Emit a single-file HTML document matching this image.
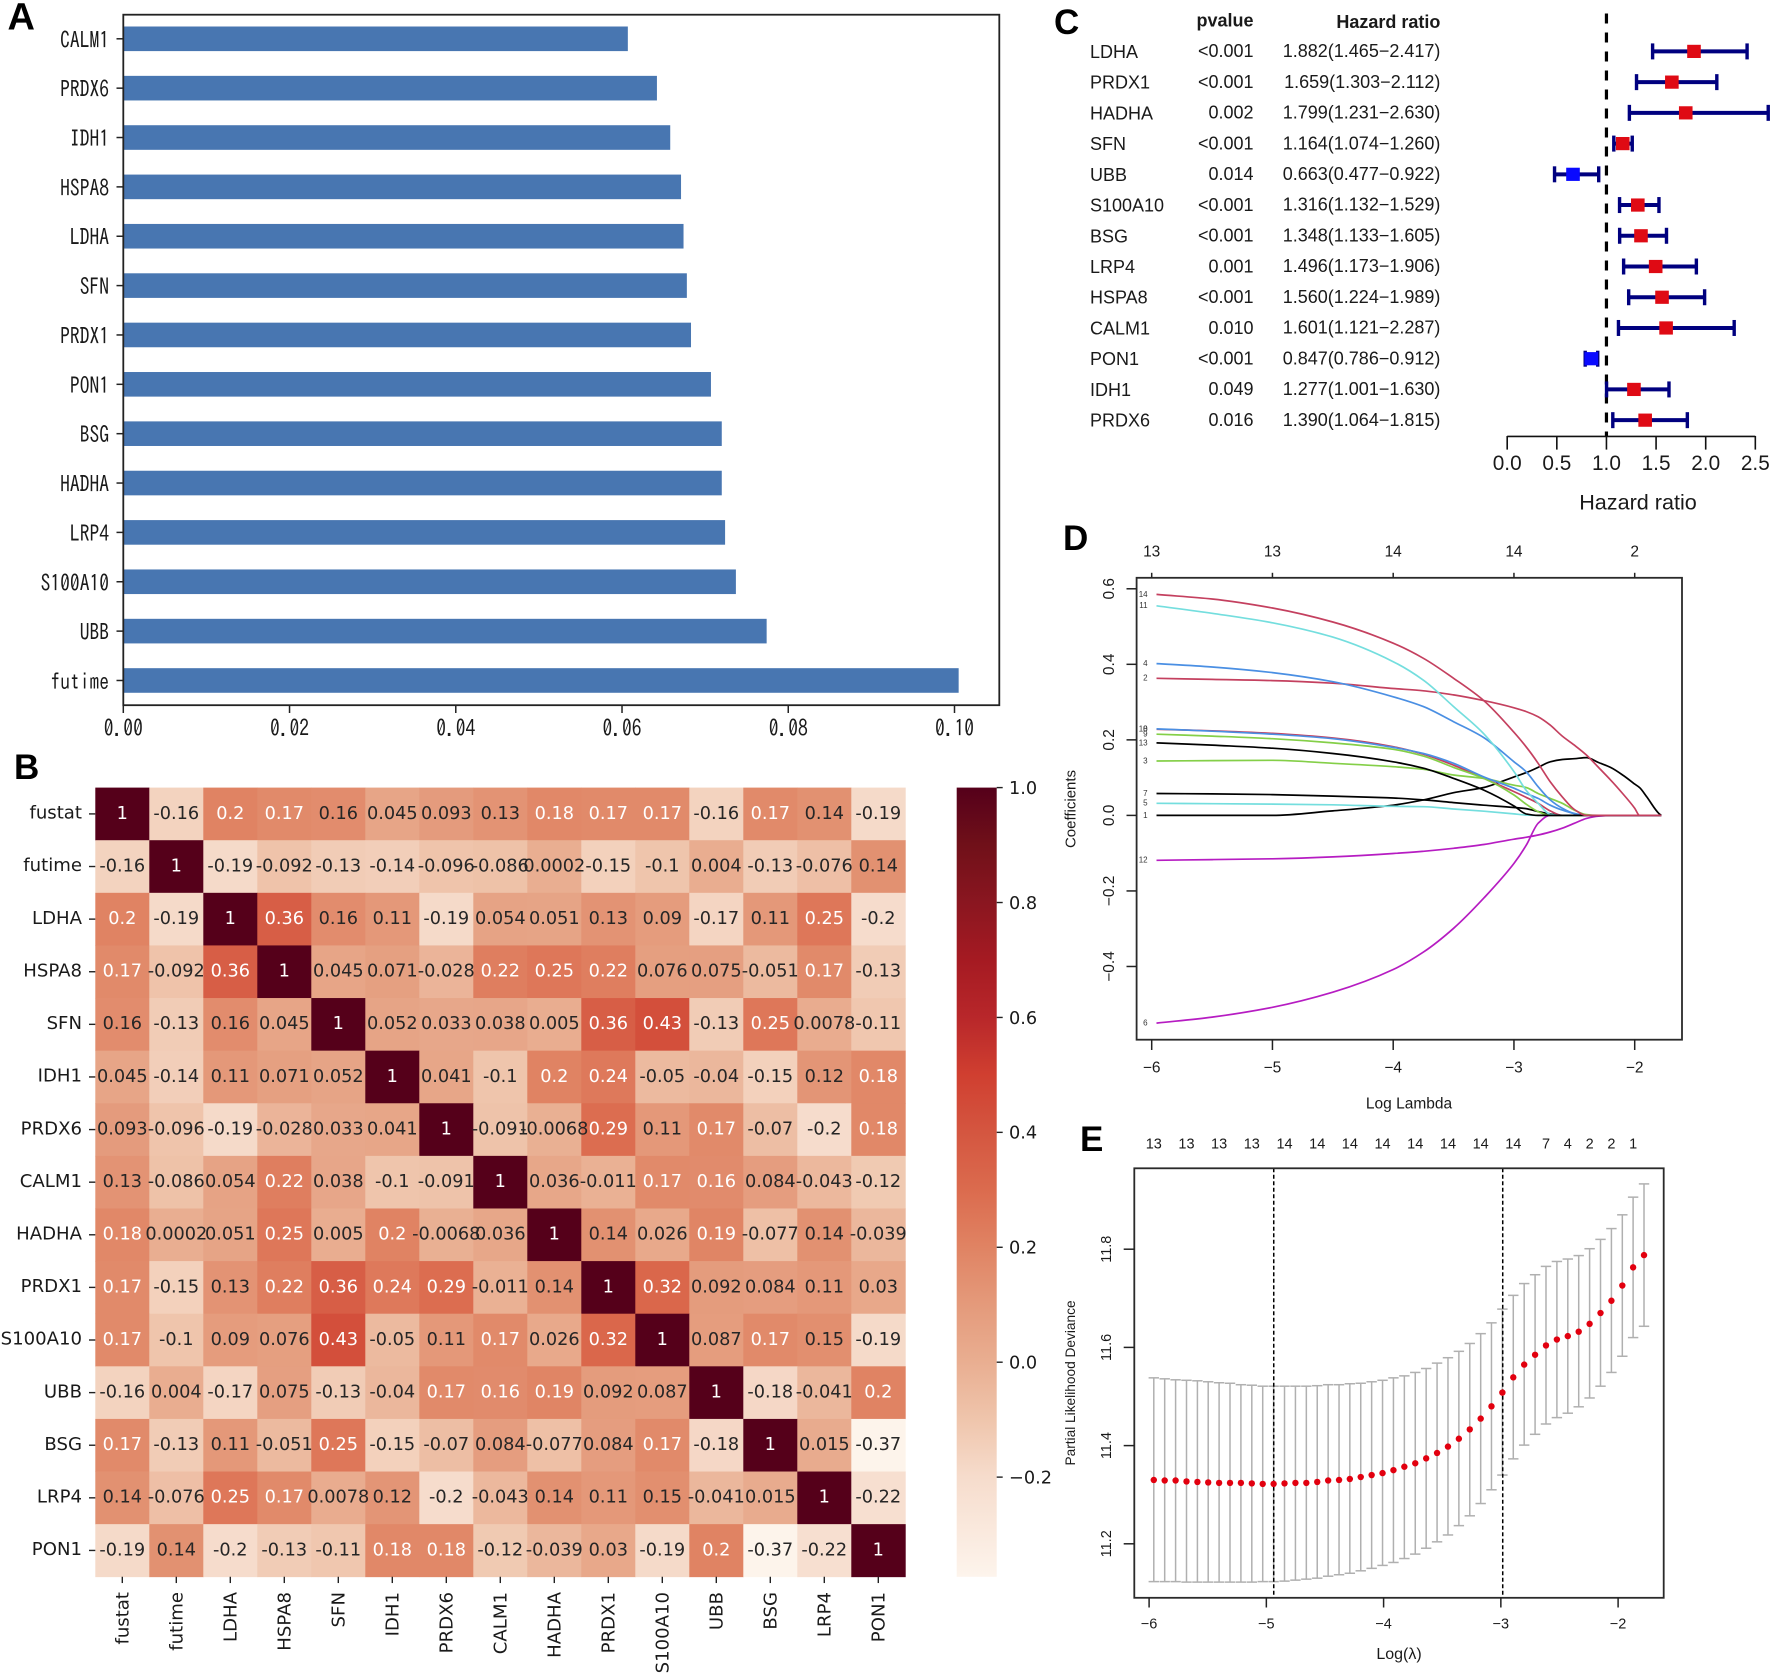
<!DOCTYPE html>
<html lang="en"><head><meta charset="utf-8"><title>Prognostic gene figure</title>
<style>
html,body{margin:0;padding:0;background:#fff;width:1772px;height:1674px;overflow:hidden}
svg{display:block}
text{font-family:"Liberation Sans",sans-serif;fill:#1a1a1a}
.dj{font-family:"DejaVu Sans",sans-serif}
.mono{font-family:"IPAGothic","Liberation Mono",monospace}
.letter{font-family:"Liberation Sans",sans-serif;font-weight:bold;font-size:35px;fill:#000}
</style></head>
<body>
<svg id="fig" xmlns="http://www.w3.org/2000/svg" width="1772" height="1674" viewBox="0 0 1772 1674">
<defs><linearGradient id="cbGrad" x1="0" y1="0" x2="0" y2="1"></linearGradient></defs>
<text class="letter" x="7.5" y="29.5" style="font-size:38px">A</text>
<text class="letter" x="14" y="779">B</text>
<text class="letter" x="1054" y="34">C</text>
<text class="letter" x="1063" y="550">D</text>
<text class="letter" x="1080" y="1151">E</text>
</svg>
<script>
// ---------- Panel A data ----------
const importanceGenes = ["CALM1","PRDX6","IDH1","HSPA8","LDHA","SFN","PRDX1","PON1","BSG","HADHA","LRP4","S100A10","UBB","futime"];
const importanceValues = [0.0607,0.0642,0.0658,0.0671,0.0674,0.0678,0.0683,0.0707,0.0720,0.0720,0.0724,0.0737,0.0774,0.1005];
const importanceTicks = [0,0.02,0.04,0.06,0.08,0.10];

// ---------- Panel B data ----------
const heatLabels = ["fustat","futime","LDHA","HSPA8","SFN","IDH1","PRDX6","CALM1","HADHA","PRDX1","S100A10","UBB","BSG","LRP4","PON1"];
const heatFustat = [1,-0.16,0.2,0.17,0.16,0.045,0.093,0.13,0.18,0.17,0.17,-0.16,0.17,0.14,-0.19];
const heatFutime = [-0.16,1,-0.19,-0.092,-0.13,-0.14,-0.096,-0.086,0.0002,-0.15,-0.1,0.004,-0.13,-0.076,0.14];
const heatLDHA = [0.2,-0.19,1,0.36,0.16,0.11,-0.19,0.054,0.051,0.13,0.09,-0.17,0.11,0.25,-0.2];
const heatHSPA8 = [0.17,-0.092,0.36,1,0.045,0.071,-0.028,0.22,0.25,0.22,0.076,0.075,-0.051,0.17,-0.13];
const heatSFN = [0.16,-0.13,0.16,0.045,1,0.052,0.033,0.038,0.005,0.36,0.43,-0.13,0.25,0.0078,-0.11];
const heatIDH1 = [0.045,-0.14,0.11,0.071,0.052,1,0.041,-0.1,0.2,0.24,-0.05,-0.04,-0.15,0.12,0.18];
const heatPRDX6 = [0.093,-0.096,-0.19,-0.028,0.033,0.041,1,-0.091,-0.0068,0.29,0.11,0.17,-0.07,-0.2,0.18];
const heatCALM1 = [0.13,-0.086,0.054,0.22,0.038,-0.1,-0.091,1,0.036,-0.011,0.17,0.164,0.084,-0.043,-0.12];
const heatHADHA = [0.18,0.0002,0.051,0.25,0.005,0.2,-0.0068,0.036,1,0.14,0.026,0.19,-0.077,0.14,-0.039];
const heatPRDX1 = [0.17,-0.15,0.13,0.22,0.36,0.24,0.29,-0.011,0.14,1,0.32,0.092,0.084,0.11,0.03];
const heatS100A10 = [0.17,-0.1,0.09,0.076,0.43,-0.05,0.11,0.17,0.026,0.32,1,0.087,0.17,0.15,-0.19];
const heatUBB = [-0.16,0.004,-0.17,0.075,-0.13,-0.04,0.17,0.164,0.19,0.092,0.087,1,-0.18,-0.041,0.2];
const heatBSG = [0.17,-0.13,0.11,-0.051,0.25,-0.15,-0.07,0.084,-0.077,0.084,0.17,-0.18,1,0.015,-0.37];
const heatLRP4 = [0.14,-0.076,0.25,0.17,0.0078,0.12,-0.2,-0.043,0.14,0.11,0.15,-0.041,0.015,1,-0.22];
const heatPON1 = [-0.19,0.14,-0.2,-0.13,-0.11,0.18,0.18,-0.12,-0.039,0.03,-0.19,0.2,-0.37,-0.22,1];
const heatRows = [heatFustat,heatFutime,heatLDHA,heatHSPA8,heatSFN,heatIDH1,heatPRDX6,heatCALM1,heatHADHA,heatPRDX1,heatS100A10,heatUBB,heatBSG,heatLRP4,heatPON1];
const colorbarTicks = [1,0.8,0.6,0.4,0.2,0,-0.2];
const colormapValues = [-0.373,-0.2,-0.1,0,0.1,0.2,0.3,0.4,0.5,0.6,0.7,0.8,0.9,1];
const colormapColors = ["#fdf4ec","#f6dccc","#efc5ac","#e9ae91","#e49a7b","#e08363","#db6b4e","#d45640","#d03f30","#b8272a","#a51a22","#8a1620","#701019","#55001a"];

// ---------- Panel C data ----------
const forestGenes = ["LDHA","PRDX1","HADHA","SFN","UBB","S100A10","BSG","LRP4","HSPA8","CALM1","PON1","IDH1","PRDX6"];
const forestP = ["<0.001","<0.001","0.002","<0.001","0.014","<0.001","<0.001","0.001","<0.001","0.010","<0.001","0.049","0.016"];
const forestHR = [1.882,1.659,1.799,1.164,0.663,1.316,1.348,1.496,1.560,1.601,0.847,1.277,1.390];
const forestLow = [1.465,1.303,1.231,1.074,0.477,1.132,1.133,1.173,1.224,1.121,0.786,1.001,1.064];
const forestHigh = [2.417,2.112,2.630,1.260,0.922,1.529,1.605,1.906,1.989,2.287,0.912,1.630,1.815];
const forestTicks = [0,0.5,1,1.5,2,2.5];

// ---------- Panel D data ----------
const lassoLambda = [-5.96,-5.5,-5,-4.5,-4,-3.75,-3.5,-3.25,-3,-2.9,-2.8,-2.7,-2.6,-2.5,-2.4,-2.3,-2.2,-2.1,-2,-1.96,-1.9,-1.8,-1.78];
const coef1 = [0,0,0,0.012,0.027,0.041,0.060,0.074,0.102,0.113,0.127,0.142,0.148,0.150,0.153,0.140,0.127,0.107,0.083,0.074,0.049,0.005,0];
const coef2 = [0.363,0.360,0.357,0.350,0.336,0.330,0.319,0.304,0.285,0.275,0.261,0.239,0.210,0.186,0.160,0.127,0.094,0.058,0.019,0,0,0,0];
const coef3 = [0.144,0.145,0.146,0.138,0.129,0.122,0.107,0.098,0.080,0.074,0.058,0.045,0.032,0.014,0.002,0,0,0,0,0,0,0,0];
const coef4 = [0.402,0.393,0.378,0.354,0.314,0.288,0.248,0.206,0.142,0.116,0.076,0.041,0.019,0.005,0,0,0,0,0,0,0,0,0];
const coef5 = [0.032,0.031,0.030,0.028,0.024,0.023,0.017,0.011,0.004,0.001,0,0,0,0,0,0,0,0,0,0,0,0,0];
const coef6 = [-0.550,-0.534,-0.508,-0.468,-0.408,-0.362,-0.299,-0.219,-0.127,-0.080,-0.021,0,0,0,0,0,0,0,0,0,0,0,0];
const coef7 = [0.058,0.057,0.055,0.051,0.046,0.041,0.034,0.027,0.021,0.018,0.010,0.004,0,0,0,0,0,0,0,0,0,0,0];
const coef8 = [0.228,0.224,0.217,0.205,0.182,0.162,0.133,0.098,0.063,0.048,0.032,0.012,0,0,0,0,0,0,0,0,0,0,0];
const coef9 = [0.215,0.210,0.203,0.192,0.175,0.157,0.127,0.098,0.054,0.030,0.010,0,0,0,0,0,0,0,0,0,0,0,0];
const coef10 = [0.229,0.223,0.215,0.203,0.180,0.164,0.138,0.102,0.072,0.058,0.045,0.027,0.014,0.005,0,0,0,0,0,0,0,0,0];
const coef11 = [0.555,0.535,0.510,0.472,0.407,0.358,0.288,0.216,0.116,0.067,0.032,0.003,0,0,0,0,0,0,0,0,0,0,0];
const coef12 = [-0.119,-0.117,-0.115,-0.110,-0.101,-0.095,-0.087,-0.077,-0.063,-0.058,-0.052,-0.044,-0.034,-0.021,-0.008,-0.002,0,0,0,0,0,0,0];
const coef13 = [0.192,0.186,0.178,0.164,0.142,0.125,0.098,0.067,0.025,0.004,0,0,0,0,0,0,0,0,0,0,0,0,0];
const coef14 = [0.585,0.573,0.549,0.512,0.456,0.416,0.363,0.304,0.220,0.182,0.138,0.089,0.049,0.016,0,0,0,0,0,0,0,0,0];
const coefSeries = [coef1,coef2,coef3,coef4,coef5,coef6,coef7,coef8,coef9,coef10,coef11,coef12,coef13,coef14];
const coefColors = ["#000000","#c4405f","#84cf48","#4a8fe3","#74dede","#b61cc2","#000000","#c4405f","#84cf48","#4a8fe3","#74dede","#b61cc2","#000000","#c4405f"];
const lassoXTicks = [-6,-5,-4,-3,-2];
const lassoTopLabels = ["13","13","14","14","2"];
const lassoYTicks = [0.6,0.4,0.2,0,-0.2,-0.4];

// ---------- Panel E data ----------
const cvLambda = [-5.96,-5.867,-5.774,-5.681,-5.588,-5.496,-5.403,-5.31,-5.217,-5.124,-5.031,-4.938,-4.845,-4.752,-4.659,-4.566,-4.473,-4.38,-4.288,-4.195,-4.102,-4.009,-3.916,-3.823,-3.73,-3.637,-3.544,-3.451,-3.358,-3.265,-3.172,-3.08,-2.987,-2.894,-2.801,-2.708,-2.615,-2.522,-2.429,-2.336,-2.243,-2.15,-2.057,-1.964,-1.872,-1.779];
const cvMean = [11.330,11.329,11.329,11.327,11.326,11.325,11.324,11.324,11.324,11.323,11.322,11.322,11.323,11.324,11.324,11.326,11.329,11.330,11.332,11.336,11.340,11.344,11.350,11.357,11.364,11.374,11.385,11.398,11.414,11.433,11.455,11.480,11.508,11.539,11.565,11.585,11.604,11.616,11.623,11.632,11.648,11.670,11.695,11.726,11.763,11.788];
const cvUpper = [11.538,11.536,11.534,11.533,11.532,11.530,11.528,11.527,11.524,11.523,11.521,11.521,11.521,11.521,11.521,11.522,11.524,11.524,11.526,11.527,11.530,11.533,11.538,11.542,11.549,11.557,11.568,11.579,11.592,11.608,11.628,11.650,11.678,11.706,11.730,11.748,11.765,11.775,11.780,11.787,11.801,11.820,11.842,11.870,11.906,11.933];
const cvLower = [11.123,11.123,11.123,11.122,11.122,11.122,11.122,11.122,11.122,11.122,11.123,11.123,11.124,11.126,11.128,11.130,11.134,11.137,11.140,11.145,11.150,11.156,11.162,11.170,11.179,11.191,11.204,11.218,11.237,11.257,11.282,11.310,11.340,11.373,11.401,11.423,11.444,11.457,11.466,11.479,11.497,11.521,11.549,11.582,11.620,11.643];
const cvLambdaMin = -4.937;
const cvLambda1se = -2.984;
const cvTopLambda = [-5.96,-5.681,-5.403,-5.124,-4.845,-4.566,-4.288,-4.009,-3.73,-3.451,-3.172,-2.894,-2.615,-2.429,-2.243,-2.057,-1.872];
const cvTopLabels = ["13","13","13","13","14","14","14","14","14","14","14","14","7","4","2","2","1"];
const cvXTicks = [-6,-5,-4,-3,-2];
const cvYTicks = [11.2,11.4,11.6,11.8];

// ---------- helpers ----------
const NS = "http://www.w3.org/2000/svg";
const fig = document.getElementById("fig");
function mk(tag, attrs, parent){
  const e = document.createElementNS(NS, tag);
  for(const k in attrs) e.setAttribute(k, attrs[k]);
  (parent || fig).appendChild(e);
  return e;
}
function group(name){
  const g = mk("g", {});
  
  
  return g;
}
function line(x1,y1,x2,y2,stroke,w,parent,extra){
  return mk("line", Object.assign({x1:x1,y1:y1,x2:x2,y2:y2,stroke:stroke,"stroke-width":w}, extra||{}), parent);
}
function label(str,x,y,size,anchor,parent,extra){
  const t = mk("text", Object.assign({x:x,y:y+size*0.36,"font-size":size,"text-anchor":anchor}, extra||{}), parent);
  t.textContent = str;
  return t;
}
function rotLabel(str,x,y,size,anchor,parent,extra){
  const t = mk("text", Object.assign({transform:"translate("+(x+size*0.36)+","+y+") rotate(-90)","font-size":size,"text-anchor":anchor}, extra||{}), parent);
  t.textContent = str;
  return t;
}
function minus(s){ return String(s).replace("-", "\u2212"); }
function hexToRgb(h){ return [parseInt(h.substr(1,2),16),parseInt(h.substr(3,2),16),parseInt(h.substr(5,2),16)]; }
function colorFor(v){
  const xs = colormapValues, cs = colormapColors;
  if(v <= xs[0]) return cs[0];
  if(v >= xs[xs.length-1]) return cs[cs.length-1];
  let i = 0;
  while(v > xs[i+1]) i++;
  const f = (v-xs[i])/(xs[i+1]-xs[i]), a = hexToRgb(cs[i]), b = hexToRgb(cs[i+1]);
  return "rgb("+a.map((c,k)=>Math.round(c+(b[k]-c)*f)).join(",")+")";
}
// monotone cubic path through the given screen points
function smoothPath(xs, ys){
  const n = xs.length, d = [], m = [];
  for(let i=0;i<n-1;i++) d.push((ys[i+1]-ys[i])/(xs[i+1]-xs[i]));
  m[0] = d[0];
  m[n-1] = d[n-2];
  for(let i=1;i<n-1;i++){
    if(d[i-1]*d[i] <= 0){ m[i] = 0; }
    else {
      const h0 = xs[i]-xs[i-1], h1 = xs[i+1]-xs[i];
      m[i] = 3*(h0+h1)/((2*h1+h0)/d[i-1]+(h1+2*h0)/d[i]);
    }
  }
  let p = "M"+xs[0].toFixed(1)+" "+ys[0].toFixed(1);
  for(let i=0;i<n-1;i++){
    const h = (xs[i+1]-xs[i])/3;
    p += "C"+(xs[i]+h).toFixed(1)+" "+(ys[i]+m[i]*h).toFixed(1)+" "+(xs[i+1]-h).toFixed(1)+" "+(ys[i+1]-m[i+1]*h).toFixed(1)+" "+xs[i+1].toFixed(1)+" "+ys[i+1].toFixed(1);
  }
  return p;
}

// ---------- Panel A ----------
(function(){
  const g = group("importance-bar-chart");
  const xA = v => 123.3 + v*8312;
  const yA = i => 38.8 + 49.36*i;
  function monoLabel(str,x,y,anchor){
    const t = mk("text",{transform:"translate("+x+","+(y+9)+") scale(0.85,1)","font-size":23,"text-anchor":anchor,class:"mono"},g);
    t.textContent = str;
    return t;
  }
  importanceGenes.forEach((name,i)=>{
    const r = mk("rect",{x:xA(0),y:yA(i)-12.3,width:xA(importanceValues[i])-xA(0),height:24.6,fill:"#4876b1"},g);
    
    
    const tk = line(116.5,yA(i),123.3,yA(i),"#222",1.5,g);
    
    
    const t = monoLabel(name,109,yA(i),"end");
    
    
  });
  importanceTicks.forEach(v=>{
    const tk = line(xA(v),705,xA(v),713,"#222",1.5,g);
    
    
    const t = monoLabel(v.toFixed(2),xA(v),727,"middle");
    
    
  });
  const fr = mk("rect",{x:123.3,y:14.7,width:876,height:690.5,fill:"none",stroke:"#222","stroke-width":1.8},g);
  
  
})();

// ---------- Panel B ----------
(function(){
  const g = group("correlation-heatmap");
  const left = 95.3, top = 787.6, cw = 54, ch = 52.61;
  const n = heatLabels.length;
  const cx = i => left + cw*(i+0.5);
  const cy = i => top + ch*(i+0.5);
  heatRows.forEach((row,r)=>{
    row.forEach((v,c)=>{
      const rc = mk("rect",{x:left+cw*c,y:top+ch*r,width:cw+0.4,height:ch+0.4,fill:colorFor(v)},g);
      
      
    });
  });
  heatRows.forEach((row,r)=>{
    row.forEach((v,c)=>{
      const txt = String(Number(v.toPrecision(2)));
      const t = label(txt,cx(c),cy(r)-1.5,17.7,"middle",g,{class:"dj",style:"fill:"+(v>=0.162?"#fff":"#262626")});
      
      
    });
  });
  heatLabels.forEach((name,i)=>{
    const a = line(89,cy(i),95.3,cy(i),"#222",1.4,g);
    
    
    const t = label(name,82,cy(i)-1.8,18.1,"end",g,{class:"dj"});
    
    
    const b = line(cx(i),top+ch*n,cx(i),top+ch*n+6.3,"#222",1.4,g);
    
    
    const u = rotLabel(name,cx(i)-0.5,1592,18.1,"end",g,{class:"dj"});
    
    
  });
  // colour bar
  const barTop = 787.6, barBottom = 1576.8;
  const yCb = v => barTop + (1-v)*574.6;
  const grad = document.getElementById("cbGrad");
  colormapValues.slice().reverse().forEach(v=>{
    mk("stop",{offset:((yCb(v)-barTop)/(barBottom-barTop)).toFixed(4),"stop-color":colorFor(v)},grad);
  });
  const cb = mk("rect",{x:956.7,y:barTop,width:40,height:barBottom-barTop,fill:"url(#cbGrad)"},g);
  
  
  colorbarTicks.forEach(v=>{
    const a = line(996.7,yCb(v),1002.7,yCb(v),"#222",1.4,g);
    
    
    const t = label(minus(v.toFixed(1)),1009,yCb(v),17.7,"start",g,{class:"dj"});
    
    
  });
})();

// ---------- Panel C ----------
(function(){
  const g = group("forest-plot");
  const xF = v => 1507.2 + v*99.25;
  const yF = i => 51.4 + 30.73*i;
  const h1 = label("pvalue",1253.5,20,18,"end",g,{"font-weight":"bold"});
  
  
  const h2 = label("Hazard ratio",1440.4,21.5,18,"end",g,{"font-weight":"bold"});
  
  
  const dash = line(xF(1),13.5,xF(1),436,"#000",3.2,g,{"stroke-dasharray":"10 9"});
  
  
  forestGenes.forEach((name,i)=>{
    const a = label(name,1090,yF(i),18,"start",g);
    
    
    const b = label(forestP[i],1253.5,yF(i)-0.7,18,"end",g);
    
    
    const c = label(forestHR[i].toFixed(3)+"("+forestLow[i].toFixed(3)+"\u2212"+forestHigh[i].toFixed(3)+")",1440.4,yF(i)-0.8,18,"end",g);
    
    
    const w = line(xF(forestLow[i]),yF(i),xF(forestHigh[i]),yF(i),"#00007f",4,g);
    
    
    const c1 = line(xF(forestLow[i]),yF(i)-8,xF(forestLow[i]),yF(i)+8,"#00007f",3.4,g);
    
    
    const c2 = line(xF(forestHigh[i]),yF(i)-8,xF(forestHigh[i]),yF(i)+8,"#00007f",3.4,g);
    
    
    const s = mk("rect",{x:xF(forestHR[i])-6.8,y:yF(i)-6.6,width:13.6,height:13.2,fill:forestHR[i]>1?"#df0a14":"#0a0aff"},g);
    
    
  });
  const ax = line(xF(0),436.4,xF(2.5),436.4,"#111",1.6,g);
  
  
  forestTicks.forEach(v=>{
    const a = line(xF(v),436,xF(v),449.6,"#111",1.6,g);
    
    
    const t = label(v.toFixed(1),xF(v),462.5,20.8,"middle",g);
    
    
  });
  const xt = label("Hazard ratio",1638,501.5,21.6,"middle",g);
  
  
})();

// ---------- Panel D ----------
(function(){
  const g = group("lasso-coefficient-plot");
  const xD = v => 1634.7 + (v+2)*120.75;
  const yD = v => 815.4 - v*377.7;
  const xs = lassoLambda.map(xD);
  coefSeries.forEach((vals,s)=>{
    const p = mk("path",{d:smoothPath(xs,vals.map(yD)),fill:"none",stroke:coefColors[s],"stroke-width":1.7,"stroke-linejoin":"round"},g);
    
    
    const t = label(String(s+1),1147.6,yD(vals[0])-0.5,8,"end",g,{style:"fill:#333"});
    
    
  });
  const fr = mk("rect",{x:1136.6,y:577.8,width:545.4,height:461.9,fill:"none",stroke:"#2a2a2a","stroke-width":1.8},g);
  
  
  lassoXTicks.forEach((v,i)=>{
    const a = line(xD(v),1039.7,xD(v),1050,"#222",1.5,g);
    
    
    const b = label(minus(v),xD(v),1067,15.5,"middle",g);
    
    
    const c = line(xD(v),572.8,xD(v),577.8,"#222",1.5,g);
    
    
    const d = label(lassoTopLabels[i],xD(v),551,15.5,"middle",g);
    
    
  });
  lassoYTicks.forEach(v=>{
    const a = line(1126.5,yD(v),1136.6,yD(v),"#222",1.5,g);
    
    
    const b = rotLabel(minus(v.toFixed(1)),1108.5,yD(v),15.5,"middle",g);
    
    
  });
  const xt = label("Log Lambda",1409,1103,15.5,"middle",g);
  
  
  const yt = rotLabel("Coefficients",1070,809,15,"middle",g);
  
  
})();

// ---------- Panel E ----------
(function(){
  const g = group("lasso-cross-validation-plot");
  const xE = v => 1618.1 + (v+2)*117.25;
  const yE = v => 1249.2 + (11.8-v)*491;
  cvLambda.forEach((l,i)=>{
    const x = xE(l);
    const a = line(x,yE(cvUpper[i]),x,yE(cvLower[i]),"#b0b0b0",1.5,g);
    
    
    const b = line(x-5.2,yE(cvUpper[i]),x+5.2,yE(cvUpper[i]),"#b0b0b0",1.5,g);
    
    
    const c = line(x-5.2,yE(cvLower[i]),x+5.2,yE(cvLower[i]),"#b0b0b0",1.5,g);
    
    
  });
  const v1 = line(xE(cvLambdaMin),1168.3,xE(cvLambdaMin),1597.8,"#000",1.5,g,{"stroke-dasharray":"4 2.5"});
  
  
  const v2 = line(xE(cvLambda1se),1168.3,xE(cvLambda1se),1597.8,"#000",1.5,g,{"stroke-dasharray":"4 2.5"});
  
  
  cvLambda.forEach((l,i)=>{
    const d = mk("circle",{cx:xE(l),cy:yE(cvMean[i]),r:3.2,fill:"#e2000f"},g);
    
    
  });
  const fr = mk("rect",{x:1134.3,y:1168.3,width:529.4,height:429.5,fill:"none",stroke:"#2a2a2a","stroke-width":1.8},g);
  
  
  cvTopLabels.forEach((s,i)=>{
    const t = label(s,xE(cvTopLambda[i]),1143.5,14.5,"middle",g);
    
    
  });
  cvXTicks.forEach(v=>{
    const a = line(xE(v),1597.8,xE(v),1607.5,"#222",1.5,g);
    
    
    const b = label(minus(v),xE(v),1623.3,14.5,"middle",g);
    
    
  });
  cvYTicks.forEach(v=>{
    const a = line(1123.7,yE(v),1134.3,yE(v),"#222",1.5,g);
    
    
    const b = rotLabel(v.toFixed(1),1106,yE(v),14.5,"middle",g);
    
    
  });
  const xt = label("Log(\u03bb)",1399,1653,16,"middle",g);
  
  
  const yt = rotLabel("Partial Likelihood Deviance",1070,1383,13.7,"middle",g);
  
  
})();
</script>
</body></html>
